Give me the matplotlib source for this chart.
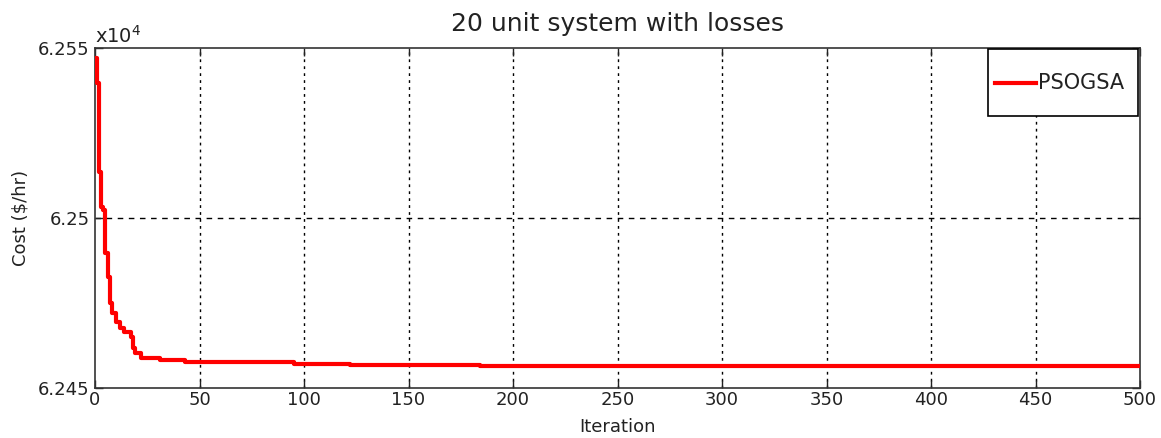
import matplotlib
matplotlib.use("Agg")
import matplotlib.pyplot as plt
from matplotlib.patches import Rectangle
from matplotlib.lines import Line2D
import numpy as np

# convergence curve (step changes only)
iterations = [0, 1, 2, 3, 4, 5, 6, 7, 8, 10, 12, 14, 17, 18, 19, 22, 31, 43, 95, 122, 184, 500]
cost = [62547.0, 62539.7, 62513.5, 62503.3, 62502.4, 62489.7, 62482.7, 62475.0,
        62472.0, 62469.5, 62467.6, 62466.6, 62465.0, 62461.8, 62460.3, 62458.8,
        62458.2, 62457.6, 62457.15, 62456.76, 62456.47, 62456.47]
series_name = "PSOGSA"
x_ticks = [0, 50, 100, 150, 200, 250, 300, 350, 400, 450, 500]
y_ticks = [6.245, 6.25, 6.255]
y_tick_labels = ["6.245", "6.25", "6.255"]

plt.rcParams['font.family'] = ['DejaVu Sans']

fig = plt.figure(figsize=(11.61, 4.38), dpi=100)
ax = fig.add_axes([95 / 1161, 50 / 438, 1045 / 1161, 340 / 438])

ax.step(np.array(iterations), np.array(cost) / 1e4, where='post', color='red',
        linewidth=3, label=series_name, zorder=3)

ax.set_xlim(0, 500)
ax.set_ylim(6.245, 6.255)
ax.set_xticks(x_ticks)
ax.set_yticks(y_ticks)
ax.set_yticklabels(y_tick_labels)

# grid: dotted verticals, dashed horizontal
for xv in x_ticks[1:-1]:
    ax.axvline(xv, color='black', linestyle=(0, (2, 3)), linewidth=1, zorder=1)
ax.axhline(6.25, color='black', linestyle=(0, (4, 4)), linewidth=1, zorder=1)

ax.tick_params(direction='in', length=6, width=1, top=True, right=True,
               labelsize=13, colors='#222222')
ax.tick_params(axis='y', pad=4)
ax.tick_params(axis='x', pad=2)
for sp in ax.spines.values():
    sp.set_linewidth(1.2)
    sp.set_color('#333333')

ax.set_title("20 unit system with losses", fontsize=18, pad=12, color='#222222')
ax.set_xlabel("Iteration", fontsize=13, labelpad=7, color='#222222')
ax.set_ylabel("Cost (\\$/hr)", fontsize=13, labelpad=6, color='#222222')
ax.text(0.0, 1.003, r"x10$^4$", transform=ax.transAxes, fontsize=14,
        va='bottom', ha='left', color='#222222')

# legend box drawn in axes fraction (tall MATLAB-style box)
ax.add_patch(Rectangle((0.8545, 0.80), 0.1435, 0.197, transform=ax.transAxes,
                       facecolor='white', edgecolor='black', linewidth=1.2, zorder=5))
ax.add_line(Line2D([0.861, 0.900], [0.8985, 0.8985], transform=ax.transAxes,
                   color='red', linewidth=3, zorder=6))
ax.text(0.902, 0.8985, series_name, transform=ax.transAxes, fontsize=15,
        va='center', ha='left', color='#222222', zorder=6)

fig.savefig("out.png", dpi=100)
